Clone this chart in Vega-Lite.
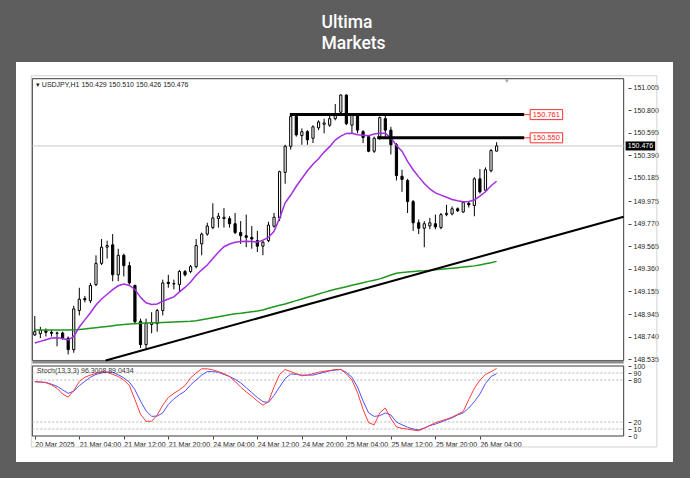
{
  "$schema": "https://vega.github.io/schema/vega-lite/v6.json",
  "width": 657,
  "height": 400,
  "autosize": {"type": "none"},
  "padding": {"left": 16, "top": 62, "right": 17, "bottom": 16},
  "background": "#5e5e5e",
  "title": {
    "text": ["Ultima", "Markets"],
    "color": "#ffffff",
    "font": "Roboto",
    "fontSize": 17.5,
    "fontWeight": 500,
    "lineHeight": 20.5,
    "anchor": "middle",
    "align": "left",
    "frame": "group",
    "dx": -23,
    "dy": 22,
    "offset": 14,
    "baseline": "bottom"
  },
  "config": {
    "view": {"fill": "#ffffff", "stroke": null},
    "font": "Liberation Sans",
    "axis": {"grid": false, "domain": false, "labelFont": "Liberation Sans", "labelColor": "#222222", "tickColor": "#444444", "labelOverlap": false}
  },
  "datasets": {
    "candles": [
      {"bar":0,"time":"2025-03-20 20:00","o":148.758,"h":148.930,"l":148.750,"c":148.788,"ma":148.685,"ma200":148.803,"k":77.6,"d":77.6},
      {"bar":1,"time":"2025-03-20 21:00","o":148.770,"h":148.832,"l":148.729,"c":148.803,"ma":148.700,"ma200":148.803,"k":77.0,"d":77.2},
      {"bar":2,"time":"2025-03-20 22:00","o":148.797,"h":148.818,"l":148.744,"c":148.782,"ma":148.715,"ma200":148.803,"k":76.2,"d":76.5},
      {"bar":3,"time":"2025-03-20 23:00","o":148.782,"h":148.803,"l":148.744,"c":148.773,"ma":148.730,"ma200":148.803,"k":73.0,"d":74.0},
      {"bar":4,"time":"2025-03-21 00:00","o":148.773,"h":148.788,"l":148.655,"c":148.776,"ma":148.732,"ma200":148.803,"k":68.0,"d":71.0},
      {"bar":5,"time":"2025-03-21 01:00","o":148.776,"h":148.788,"l":148.714,"c":148.729,"ma":148.725,"ma200":148.804,"k":60.0,"d":66.0},
      {"bar":6,"time":"2025-03-21 02:00","o":148.729,"h":148.744,"l":148.581,"c":148.625,"ma":148.712,"ma200":148.804,"k":55.5,"d":61.0},
      {"bar":7,"time":"2025-03-21 03:00","o":148.625,"h":149.024,"l":148.596,"c":148.995,"ma":148.745,"ma200":148.805,"k":65.0,"d":64.0},
      {"bar":8,"time":"2025-03-21 04:00","o":148.980,"h":149.187,"l":148.936,"c":149.083,"ma":148.830,"ma200":148.807,"k":78.0,"d":72.0},
      {"bar":9,"time":"2025-03-21 05:00","o":149.089,"h":149.113,"l":149.054,"c":149.078,"ma":148.895,"ma200":148.812,"k":84.0,"d":78.0},
      {"bar":10,"time":"2025-03-21 06:00","o":149.069,"h":149.231,"l":149.048,"c":149.208,"ma":148.960,"ma200":148.818,"k":87.0,"d":84.0},
      {"bar":11,"time":"2025-03-21 07:00","o":149.216,"h":149.482,"l":149.202,"c":149.409,"ma":149.030,"ma200":148.824,"k":89.5,"d":88.0},
      {"bar":12,"time":"2025-03-21 08:00","o":149.409,"h":149.630,"l":149.394,"c":149.556,"ma":149.085,"ma200":148.830,"k":92.0,"d":90.0},
      {"bar":13,"time":"2025-03-21 09:00","o":149.556,"h":149.615,"l":149.453,"c":149.571,"ma":149.128,"ma200":148.836,"k":91.0,"d":91.5},
      {"bar":14,"time":"2025-03-21 10:00","o":149.577,"h":149.675,"l":149.246,"c":149.305,"ma":149.170,"ma200":148.842,"k":88.0,"d":91.0},
      {"bar":15,"time":"2025-03-21 11:00","o":149.305,"h":149.541,"l":149.246,"c":149.482,"ma":149.205,"ma200":148.848,"k":85.0,"d":87.5},
      {"bar":16,"time":"2025-03-21 12:00","o":149.482,"h":149.497,"l":149.290,"c":149.388,"ma":149.222,"ma200":148.853,"k":80.0,"d":83.0},
      {"bar":17,"time":"2025-03-21 13:00","o":149.388,"h":149.423,"l":149.216,"c":149.231,"ma":149.208,"ma200":148.858,"k":72.0,"d":77.0},
      {"bar":18,"time":"2025-03-21 14:00","o":149.208,"h":149.216,"l":148.862,"c":148.877,"ma":149.172,"ma200":148.861,"k":52.0,"d":66.0},
      {"bar":19,"time":"2025-03-21 15:00","o":148.883,"h":148.906,"l":148.640,"c":148.670,"ma":149.100,"ma200":148.864,"k":31.0,"d":50.0},
      {"bar":20,"time":"2025-03-21 16:00","o":148.670,"h":148.906,"l":148.625,"c":148.862,"ma":149.050,"ma200":148.866,"k":21.0,"d":36.0},
      {"bar":21,"time":"2025-03-21 17:00","o":148.853,"h":148.965,"l":148.773,"c":148.871,"ma":149.035,"ma200":148.868,"k":21.0,"d":28.0},
      {"bar":22,"time":"2025-03-21 18:00","o":148.862,"h":148.995,"l":148.788,"c":148.980,"ma":149.040,"ma200":148.870,"k":30.0,"d":28.5},
      {"bar":23,"time":"2025-03-21 19:00","o":148.980,"h":149.261,"l":148.936,"c":149.231,"ma":149.065,"ma200":148.872,"k":44.0,"d":33.0},
      {"bar":24,"time":"2025-03-21 20:00","o":149.237,"h":149.305,"l":149.187,"c":149.225,"ma":149.085,"ma200":148.874,"k":55.0,"d":45.0},
      {"bar":25,"time":"2025-03-21 21:00","o":149.225,"h":149.261,"l":149.172,"c":149.222,"ma":149.104,"ma200":148.876,"k":61.0,"d":53.0},
      {"bar":26,"time":"2025-03-21 22:00","o":149.216,"h":149.349,"l":149.157,"c":149.335,"ma":149.150,"ma200":148.878,"k":66.0,"d":59.0},
      {"bar":27,"time":"2025-03-21 23:00","o":149.335,"h":149.349,"l":149.290,"c":149.305,"ma":149.190,"ma200":148.880,"k":72.0,"d":64.0},
      {"bar":28,"time":"2025-03-24 00:00","o":149.335,"h":149.394,"l":149.320,"c":149.379,"ma":149.240,"ma200":148.883,"k":83.0,"d":73.0},
      {"bar":29,"time":"2025-03-24 01:00","o":149.379,"h":149.630,"l":149.364,"c":149.571,"ma":149.300,"ma200":148.888,"k":90.0,"d":80.0},
      {"bar":30,"time":"2025-03-24 02:00","o":149.586,"h":149.689,"l":149.482,"c":149.675,"ma":149.350,"ma200":148.897,"k":96.0,"d":87.0},
      {"bar":31,"time":"2025-03-24 03:00","o":149.675,"h":149.778,"l":149.660,"c":149.748,"ma":149.394,"ma200":148.906,"k":96.0,"d":92.0},
      {"bar":32,"time":"2025-03-24 04:00","o":149.734,"h":149.955,"l":149.719,"c":149.822,"ma":149.453,"ma200":148.915,"k":94.5,"d":92.0},
      {"bar":33,"time":"2025-03-24 05:00","o":149.816,"h":149.867,"l":149.734,"c":149.837,"ma":149.510,"ma200":148.924,"k":92.0,"d":91.0},
      {"bar":34,"time":"2025-03-24 06:00","o":149.816,"h":149.911,"l":149.734,"c":149.828,"ma":149.560,"ma200":148.933,"k":89.0,"d":88.0},
      {"bar":35,"time":"2025-03-24 07:00","o":149.816,"h":149.837,"l":149.734,"c":149.769,"ma":149.585,"ma200":148.942,"k":85.0,"d":85.0},
      {"bar":36,"time":"2025-03-24 08:00","o":149.769,"h":149.867,"l":149.675,"c":149.689,"ma":149.600,"ma200":148.950,"k":78.0,"d":81.0},
      {"bar":37,"time":"2025-03-24 09:00","o":149.689,"h":149.793,"l":149.586,"c":149.660,"ma":149.607,"ma200":148.955,"k":70.0,"d":76.0},
      {"bar":38,"time":"2025-03-24 10:00","o":149.660,"h":149.852,"l":149.556,"c":149.645,"ma":149.610,"ma200":148.962,"k":63.0,"d":69.0},
      {"bar":39,"time":"2025-03-24 11:00","o":149.645,"h":149.749,"l":149.542,"c":149.630,"ma":149.608,"ma200":148.968,"k":57.0,"d":62.0},
      {"bar":40,"time":"2025-03-24 12:00","o":149.616,"h":149.704,"l":149.512,"c":149.565,"ma":149.601,"ma200":148.975,"k":50.0,"d":55.0},
      {"bar":41,"time":"2025-03-24 13:00","o":149.565,"h":149.616,"l":149.483,"c":149.601,"ma":149.620,"ma200":148.985,"k":44.0,"d":49.0},
      {"bar":42,"time":"2025-03-24 14:00","o":149.616,"h":149.787,"l":149.601,"c":149.757,"ma":149.645,"ma200":149.000,"k":49.0,"d":48.0},
      {"bar":43,"time":"2025-03-24 15:00","o":149.746,"h":149.867,"l":149.734,"c":149.828,"ma":149.700,"ma200":149.015,"k":70.0,"d":58.0},
      {"bar":44,"time":"2025-03-24 16:00","o":149.822,"h":150.251,"l":149.793,"c":150.242,"ma":149.820,"ma200":149.028,"k":88.0,"d":70.0},
      {"bar":45,"time":"2025-03-24 17:00","o":150.236,"h":150.487,"l":150.133,"c":150.473,"ma":149.960,"ma200":149.040,"k":95.0,"d":82.0},
      {"bar":46,"time":"2025-03-24 18:00","o":150.473,"h":150.762,"l":150.443,"c":150.744,"ma":150.030,"ma200":149.055,"k":92.0,"d":88.6},
      {"bar":47,"time":"2025-03-24 19:00","o":150.744,"h":150.753,"l":150.561,"c":150.576,"ma":150.110,"ma200":149.070,"k":89.0,"d":88.0},
      {"bar":48,"time":"2025-03-24 20:00","o":150.570,"h":150.635,"l":150.487,"c":150.606,"ma":150.180,"ma200":149.085,"k":86.0,"d":87.0},
      {"bar":49,"time":"2025-03-24 21:00","o":150.606,"h":150.620,"l":150.487,"c":150.532,"ma":150.250,"ma200":149.100,"k":87.0,"d":87.0},
      {"bar":50,"time":"2025-03-24 22:00","o":150.546,"h":150.665,"l":150.502,"c":150.650,"ma":150.310,"ma200":149.115,"k":89.0,"d":87.0},
      {"bar":51,"time":"2025-03-24 23:00","o":150.641,"h":150.709,"l":150.620,"c":150.694,"ma":150.360,"ma200":149.130,"k":91.0,"d":89.0},
      {"bar":52,"time":"2025-03-25 00:00","o":150.673,"h":150.724,"l":150.591,"c":150.685,"ma":150.420,"ma200":149.145,"k":92.5,"d":91.0},
      {"bar":53,"time":"2025-03-25 01:00","o":150.665,"h":150.753,"l":150.650,"c":150.724,"ma":150.470,"ma200":149.160,"k":93.5,"d":93.0},
      {"bar":54,"time":"2025-03-25 02:00","o":150.724,"h":150.857,"l":150.709,"c":150.768,"ma":150.530,"ma200":149.173,"k":95.0,"d":94.0},
      {"bar":55,"time":"2025-03-25 03:00","o":150.783,"h":150.945,"l":150.768,"c":150.939,"ma":150.565,"ma200":149.185,"k":95.0,"d":95.0},
      {"bar":56,"time":"2025-03-25 04:00","o":150.939,"h":150.945,"l":150.665,"c":150.679,"ma":150.590,"ma200":149.197,"k":89.0,"d":91.0},
      {"bar":57,"time":"2025-03-25 05:00","o":150.665,"h":150.768,"l":150.591,"c":150.753,"ma":150.592,"ma200":149.209,"k":80.0,"d":84.0},
      {"bar":58,"time":"2025-03-25 06:00","o":150.753,"h":150.768,"l":150.591,"c":150.620,"ma":150.578,"ma200":149.221,"k":62.0,"d":70.0},
      {"bar":59,"time":"2025-03-25 07:00","o":150.606,"h":150.620,"l":150.502,"c":150.552,"ma":150.574,"ma200":149.233,"k":38.0,"d":50.0},
      {"bar":60,"time":"2025-03-25 08:00","o":150.561,"h":150.576,"l":150.419,"c":150.428,"ma":150.570,"ma200":149.245,"k":19.0,"d":33.0},
      {"bar":61,"time":"2025-03-25 09:00","o":150.428,"h":150.561,"l":150.413,"c":150.546,"ma":150.585,"ma200":149.256,"k":16.0,"d":28.0},
      {"bar":62,"time":"2025-03-25 10:00","o":150.561,"h":150.744,"l":150.532,"c":150.733,"ma":150.592,"ma200":149.268,"k":33.0,"d":29.0},
      {"bar":63,"time":"2025-03-25 11:00","o":150.724,"h":150.753,"l":150.561,"c":150.620,"ma":150.591,"ma200":149.285,"k":40.0,"d":33.0},
      {"bar":64,"time":"2025-03-25 12:00","o":150.620,"h":150.650,"l":150.399,"c":150.487,"ma":150.550,"ma200":149.303,"k":25.0,"d":30.0},
      {"bar":65,"time":"2025-03-25 13:00","o":150.487,"h":150.502,"l":150.162,"c":150.207,"ma":150.480,"ma200":149.318,"k":13.0,"d":20.0},
      {"bar":66,"time":"2025-03-25 14:00","o":150.201,"h":150.260,"l":150.059,"c":150.171,"ma":150.428,"ma200":149.325,"k":11.0,"d":16.0},
      {"bar":67,"time":"2025-03-25 15:00","o":150.162,"h":150.177,"l":149.867,"c":149.970,"ma":150.335,"ma200":149.330,"k":9.8,"d":12.5},
      {"bar":68,"time":"2025-03-25 16:00","o":149.970,"h":149.985,"l":149.704,"c":149.778,"ma":150.260,"ma200":149.335,"k":8.5,"d":10.0},
      {"bar":69,"time":"2025-03-25 17:00","o":149.778,"h":149.808,"l":149.675,"c":149.728,"ma":150.195,"ma200":149.339,"k":7.6,"d":8.6},
      {"bar":70,"time":"2025-03-25 18:00","o":149.728,"h":149.793,"l":149.556,"c":149.769,"ma":150.135,"ma200":149.341,"k":11.0,"d":11.5},
      {"bar":71,"time":"2025-03-25 19:00","o":149.749,"h":149.822,"l":149.719,"c":149.778,"ma":150.085,"ma200":149.345,"k":15.0,"d":15.0},
      {"bar":72,"time":"2025-03-25 20:00","o":149.769,"h":149.852,"l":149.719,"c":149.740,"ma":150.050,"ma200":149.350,"k":19.0,"d":17.0},
      {"bar":73,"time":"2025-03-25 21:00","o":149.734,"h":149.867,"l":149.719,"c":149.852,"ma":150.029,"ma200":149.355,"k":21.5,"d":20.0},
      {"bar":74,"time":"2025-03-25 22:00","o":149.852,"h":149.941,"l":149.837,"c":149.864,"ma":150.010,"ma200":149.360,"k":24.0,"d":23.0},
      {"bar":75,"time":"2025-03-25 23:00","o":149.858,"h":149.926,"l":149.846,"c":149.905,"ma":149.990,"ma200":149.365,"k":27.0,"d":26.0},
      {"bar":76,"time":"2025-03-26 00:00","o":149.905,"h":149.917,"l":149.876,"c":149.887,"ma":149.978,"ma200":149.370,"k":31.0,"d":30.0},
      {"bar":77,"time":"2025-03-26 01:00","o":149.876,"h":149.970,"l":149.867,"c":149.964,"ma":149.970,"ma200":149.375,"k":35.0,"d":33.0},
      {"bar":78,"time":"2025-03-26 02:00","o":149.955,"h":149.970,"l":149.917,"c":149.941,"ma":149.972,"ma200":149.380,"k":52.0,"d":40.0},
      {"bar":79,"time":"2025-03-26 03:00","o":149.935,"h":150.192,"l":149.837,"c":150.177,"ma":149.985,"ma200":149.386,"k":68.0,"d":49.0},
      {"bar":80,"time":"2025-03-26 04:00","o":150.177,"h":150.266,"l":150.044,"c":150.059,"ma":150.020,"ma200":149.395,"k":80.0,"d":60.0},
      {"bar":81,"time":"2025-03-26 05:00","o":150.074,"h":150.281,"l":150.059,"c":150.260,"ma":150.060,"ma200":149.405,"k":88.0,"d":75.0},
      {"bar":82,"time":"2025-03-26 06:00","o":150.251,"h":150.449,"l":150.236,"c":150.434,"ma":150.115,"ma200":149.415,"k":92.0,"d":85.0},
      {"bar":83,"time":"2025-03-26 07:00","o":150.429,"h":150.510,"l":150.426,"c":150.476,"ma":150.155,"ma200":149.427,"k":96.3008,"d":89.0434}
    ],
    "trend": [
      {"bar": 12.74, "p": 148.526},
      {"bar": 105.84, "p": 149.832}
    ],
    "levels": [
      {"level": 150.761, "start": 45.84, "end": 87.96},
      {"level": 150.550, "start": 61.54, "end": 87.96}
    ],
    "stochLevels": [
      {"lv": 10}, {"lv": 20}, {"lv": 80}, {"lv": 90}
    ]
  },
  "layer": [
    {
      "layer": [
        {
          "data": {"values": [{}]},
          "mark": {"type": "rect", "fill": null, "stroke": "#d2d2d2", "strokeWidth": 1},
          "encoding": {
            "x": {"datum": -0.62, "type": "quantitative", "scale": {"domain": [-2.478, 113.805], "nice": false, "zero": false}},
            "x2": {"datum": 111.8},
            "y": {
              "datum": 151.114, "type": "quantitative",
              "scale": {"domain": [147.6487, 151.1938], "nice": false, "zero": false},
              "axis": {
                "orient": "right", "offset": -45, "title": null, "domain": false, "grid": false,
                "values": [148.535, 148.74, 148.945, 149.155, 149.36, 149.565, 149.77, 149.975, 150.185, 150.39, 150.595, 150.8, 151.005],
                "tickCount": 30,
                "format": ".3f", "tickSize": 3, "tickColor": "#444444", "labelColor": "#222222",
                "labelFont": "Liberation Sans", "labelFontSize": 7, "labelPadding": 2,
                "labelFlush": false, "labelBound": false, "labelOverlap": false
              }
            },
            "y2": {"datum": 147.740}
          }
        },
        {
          "data": {"values": [{}]},
          "mark": {"type": "rect", "fill": null, "stroke": "#3a3a3a", "strokeWidth": 1},
          "encoding": {
            "x": {"datum": -0.44, "type": "quantitative", "scale": {"domain": [-2.478, 113.805], "nice": false, "zero": false}},
            "x2": {"datum": 105.84},
            "y": {"datum": 151.0874, "type": "quantitative", "scale": {"domain": [147.6487, 151.1938], "nice": false, "zero": false}},
            "y2": {"datum": 148.5261}
          }
        },
        {
          "data": {"values": [{}]},
          "mark": {"type": "rule", "stroke": "#8c8c8c", "strokeWidth": 3},
          "encoding": {
            "x": {"datum": -0.44, "type": "quantitative", "scale": {"domain": [-2.478, 113.805], "nice": false, "zero": false}},
            "x2": {"datum": 105.84},
            "y": {"datum": 148.5128, "type": "quantitative", "scale": {"domain": [147.6487, 151.1938], "nice": false, "zero": false}}
          }
        },
        {
          "data": {"values": [{}]},
          "mark": {"type": "rule", "stroke": "#c8c8c8", "strokeWidth": 1},
          "encoding": {
            "x": {"datum": -0.44, "type": "quantitative", "scale": {"domain": [-2.478, 113.805], "nice": false, "zero": false}},
            "x2": {"datum": 105.84},
            "y": {"datum": 150.476, "type": "quantitative", "scale": {"domain": [147.6487, 151.1938], "nice": false, "zero": false}}
          }
        },
        {
          "data": {"name": "candles"},
          "mark": {"type": "rule", "stroke": "#000000", "strokeWidth": 1},
          "encoding": {
            "x": {"field": "bar", "type": "quantitative", "scale": {"domain": [-2.478, 113.805], "nice": false, "zero": false}},
            "y": {"field": "l", "type": "quantitative", "scale": {"domain": [147.6487, 151.1938], "nice": false, "zero": false}},
            "y2": {"field": "h"}
          }
        },
        {
          "data": {"name": "candles"},
          "mark": {"type": "bar", "size": 2.2, "stroke": "#000000", "strokeWidth": 1},
          "encoding": {
            "x": {"field": "bar", "type": "quantitative", "scale": {"domain": [-2.478, 113.805], "nice": false, "zero": false}},
            "y": {"field": "o", "type": "quantitative", "scale": {"domain": [147.6487, 151.1938], "nice": false, "zero": false}},
            "y2": {"field": "c"},
            "fill": {"condition": {"test": "datum.c >= datum.o", "value": "#ffffff"}, "value": "#000000"}
          }
        },
        {
          "data": {"name": "candles"},
          "mark": {"type": "line", "stroke": "#1f961f", "strokeWidth": 1.5},
          "encoding": {
            "x": {"field": "bar", "type": "quantitative", "scale": {"domain": [-2.478, 113.805], "nice": false, "zero": false}},
            "y": {"field": "ma200", "type": "quantitative", "scale": {"domain": [147.6487, 151.1938], "nice": false, "zero": false}}
          }
        },
        {
          "data": {"name": "candles"},
          "mark": {"type": "line", "stroke": "#a42ee0", "strokeWidth": 1.5},
          "encoding": {
            "x": {"field": "bar", "type": "quantitative", "scale": {"domain": [-2.478, 113.805], "nice": false, "zero": false}},
            "y": {"field": "ma", "type": "quantitative", "scale": {"domain": [147.6487, 151.1938], "nice": false, "zero": false}}
          }
        },
        {
          "data": {"name": "trend"},
          "mark": {"type": "line", "stroke": "#000000", "strokeWidth": 2},
          "encoding": {
            "x": {"field": "bar", "type": "quantitative", "scale": {"domain": [-2.478, 113.805], "nice": false, "zero": false}},
            "y": {"field": "p", "type": "quantitative", "scale": {"domain": [147.6487, 151.1938], "nice": false, "zero": false}}
          }
        },
        {
          "data": {"name": "levels"},
          "mark": {"type": "rule", "stroke": "#000000", "strokeWidth": 3},
          "encoding": {
            "x": {"field": "start", "type": "quantitative", "scale": {"domain": [-2.478, 113.805], "nice": false, "zero": false}},
            "x2": {"field": "end"},
            "y": {"field": "level", "type": "quantitative", "scale": {"domain": [147.6487, 151.1938], "nice": false, "zero": false}}
          }
        },
        {
          "data": {"name": "levels"},
          "mark": {"type": "rule", "stroke": "#ff3030", "strokeWidth": 1},
          "encoding": {
            "x": {"field": "end", "type": "quantitative", "scale": {"domain": [-2.478, 113.805], "nice": false, "zero": false}},
            "x2": {"datum": 89.03},
            "y": {"field": "level", "type": "quantitative", "scale": {"domain": [147.6487, 151.1938], "nice": false, "zero": false}}
          }
        },
        {
          "data": {"name": "levels"},
          "mark": {"type": "bar", "size": 10, "fill": "#ffffff", "stroke": "#ff3030", "strokeWidth": 1},
          "encoding": {
            "x": {"datum": 89.03, "type": "quantitative", "scale": {"domain": [-2.478, 113.805], "nice": false, "zero": false}},
            "x2": {"datum": 94.87},
            "y": {"field": "level", "type": "quantitative", "scale": {"domain": [147.6487, 151.1938], "nice": false, "zero": false}}
          }
        },
        {
          "data": {"name": "levels"},
          "mark": {"type": "text", "color": "#ff2020", "fontSize": 7.5, "align": "center", "baseline": "middle", "font": "Liberation Sans"},
          "encoding": {
            "x": {"datum": 91.95, "type": "quantitative", "scale": {"domain": [-2.478, 113.805], "nice": false, "zero": false}},
            "y": {"field": "level", "type": "quantitative", "scale": {"domain": [147.6487, 151.1938], "nice": false, "zero": false}},
            "text": {"field": "level", "type": "quantitative", "format": ".3f"}
          }
        },
        {
          "data": {"values": [{"price": 150.476}]},
          "mark": {"type": "bar", "size": 9, "fill": "#000000"},
          "encoding": {
            "x": {"datum": 106.19, "type": "quantitative", "scale": {"domain": [-2.478, 113.805], "nice": false, "zero": false}},
            "x2": {"datum": 111.5},
            "y": {"field": "price", "type": "quantitative", "scale": {"domain": [147.6487, 151.1938], "nice": false, "zero": false}}
          }
        },
        {
          "data": {"values": [{"price": 150.476}]},
          "mark": {"type": "text", "color": "#ffffff", "fontSize": 7, "align": "center", "baseline": "middle", "font": "Liberation Sans"},
          "encoding": {
            "x": {"datum": 108.85, "type": "quantitative", "scale": {"domain": [-2.478, 113.805], "nice": false, "zero": false}},
            "y": {"field": "price", "type": "quantitative", "scale": {"domain": [147.6487, 151.1938], "nice": false, "zero": false}},
            "text": {"field": "price", "type": "quantitative", "format": ".3f"}
          }
        },
        {
          "data": {"values": [{"label": "▾ USDJPY,H1  150.429 150.510 150.426 150.476"}]},
          "mark": {"type": "text", "color": "#222222", "fontSize": 7, "align": "left", "baseline": "middle", "font": "Liberation Sans"},
          "encoding": {
            "x": {"datum": 0.2, "type": "quantitative", "scale": {"domain": [-2.478, 113.805], "nice": false, "zero": false}},
            "y": {"datum": 151.03, "type": "quantitative", "scale": {"domain": [147.6487, 151.1938], "nice": false, "zero": false}},
            "text": {"field": "label", "type": "nominal"}
          }
        },
        {
          "data": {"values": [{"label": "▼"}]},
          "mark": {"type": "text", "color": "#a0a0a0", "fontSize": 6, "align": "center", "baseline": "middle"},
          "encoding": {
            "x": {"datum": 84.8, "type": "quantitative", "scale": {"domain": [-2.478, 113.805], "nice": false, "zero": false}},
            "y": {"datum": 151.065, "type": "quantitative", "scale": {"domain": [147.6487, 151.1938], "nice": false, "zero": false}},
            "text": {"field": "label", "type": "nominal"}
          }
        }
      ]
    },
    {
      "layer": [
        {
          "data": {"values": [{}]},
          "mark": {"type": "rect", "fill": null, "stroke": "#3a3a3a", "strokeWidth": 1},
          "encoding": {
            "x": {
              "datum": -0.44, "type": "quantitative",
              "scale": {"domain": [-2.478, 113.805], "nice": false, "zero": false},
              "axis": {
                "orient": "bottom", "offset": -26, "title": null, "domain": false, "grid": false,
                "values": [0, 8, 16, 24, 32, 40, 48, 56, 64, 72, 80],
                "tickCount": 30,
                "labelExpr": "['20 Mar 2025','21 Mar 04:00','21 Mar 12:00','21 Mar 20:00','24 Mar 04:00','24 Mar 12:00','24 Mar 20:00','25 Mar 04:00','25 Mar 12:00','25 Mar 20:00','26 Mar 04:00'][round(datum.value/8)]",
                "tickSize": 3, "tickColor": "#444444", "labelColor": "#222222",
                "labelFont": "Liberation Sans Narrow, Liberation Sans", "labelFontSize": 7, "labelAlign": "left", "labelPadding": 1,
                "labelFlush": false, "labelBound": false, "labelOverlap": false
              }
            },
            "x2": {"datum": 105.84},
            "y": {
              "datum": 100, "type": "quantitative",
              "scale": {"domain": [-37.14, 534.29], "nice": false, "zero": false},
              "axis": {
                "orient": "right", "offset": -45, "title": null, "domain": false, "grid": false,
                "values": [0, 10, 20, 80, 90, 100],
                "tickCount": 30,
                "tickSize": 3, "tickColor": "#444444", "labelColor": "#222222",
                "labelFont": "Liberation Sans", "labelFontSize": 7, "labelPadding": 2,
                "labelFlush": false, "labelBound": false, "labelOverlap": false
              }
            },
            "y2": {"datum": 0}
          }
        },
        {
          "data": {"name": "stochLevels"},
          "mark": {"type": "rule", "stroke": "#b4b4b4", "strokeWidth": 1, "strokeDash": [2, 2]},
          "encoding": {
            "x": {"datum": -0.44, "type": "quantitative", "scale": {"domain": [-2.478, 113.805], "nice": false, "zero": false}},
            "x2": {"datum": 105.84},
            "y": {"field": "lv", "type": "quantitative", "scale": {"domain": [-37.14, 534.29], "nice": false, "zero": false}}
          }
        },
        {
          "data": {"name": "candles"},
          "mark": {"type": "line", "stroke": "#5050ff", "strokeWidth": 1},
          "encoding": {
            "x": {"field": "bar", "type": "quantitative", "scale": {"domain": [-2.478, 113.805], "nice": false, "zero": false}},
            "y": {"field": "d", "type": "quantitative", "scale": {"domain": [-37.14, 534.29], "nice": false, "zero": false}}
          }
        },
        {
          "data": {"name": "candles"},
          "mark": {"type": "line", "stroke": "#ff3b3b", "strokeWidth": 1},
          "encoding": {
            "x": {"field": "bar", "type": "quantitative", "scale": {"domain": [-2.478, 113.805], "nice": false, "zero": false}},
            "y": {"field": "k", "type": "quantitative", "scale": {"domain": [-37.14, 534.29], "nice": false, "zero": false}}
          }
        },
        {
          "data": {"values": [{"label": "Stoch(13,3,3) 96.3008 89.0434"}]},
          "mark": {"type": "text", "color": "#333333", "fontSize": 7, "align": "left", "baseline": "middle", "font": "Liberation Sans"},
          "encoding": {
            "x": {"datum": 0.4, "type": "quantitative", "scale": {"domain": [-2.478, 113.805], "nice": false, "zero": false}},
            "y": {"datum": 93, "type": "quantitative", "scale": {"domain": [-37.14, 534.29], "nice": false, "zero": false}},
            "text": {"field": "label", "type": "nominal"}
          }
        }
      ]
    }
  ],
  "resolve": {"scale": {"y": "independent"}, "axis": {"y": "independent"}}
}
